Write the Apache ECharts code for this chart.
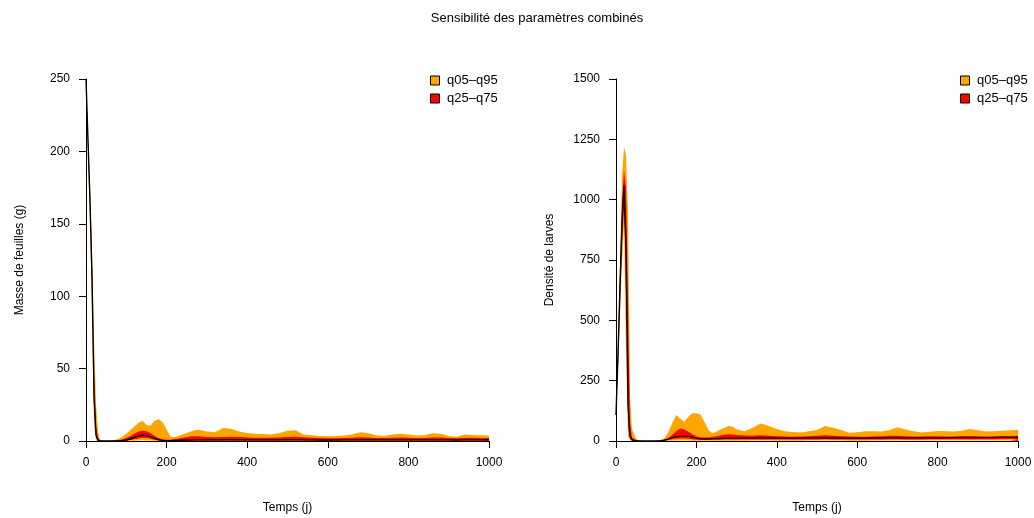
<!DOCTYPE html>
<html><head><meta charset="utf-8">
<script src="https://cdn.jsdelivr.net/npm/echarts@6/dist/echarts.min.js"></script>
<style>html,body{margin:0;padding:0;background:#fff}#c{width:1034px;height:518px}</style>
</head><body><div id="c"></div>
<script>
// time points (days)
const T = [0,5,10,15,20,25,30,35,40,
  50,60,70,80,90,100,110,120,130,140,150,160,170,180,190,200,210,220,230,240,250,260,270,280,290,300,
  320,340,360,380,400,420,440,460,480,500,520,540,560,580,600,620,640,660,680,700,720,740,760,780,800,820,840,860,880,900,920,940,960,980,1000];

// Masse de feuilles (g)
const leafQ05 = [250,198,150,88,10,0.5,0,0,0,
  0,0,0,0,0,0,0.1,0.2,0.4,0.5,0.4,0.3,0.1,0,0,0,0,0,0,0,0,0.05,0.05,0.05,0.05,0.05,
  0.05,0.05,0.05,0.05,0.05,0.05,0.05,0.05,0.05,0.05,0.05,0.05,0.05,0.05,0.05,0.05,0.05,0.05,0.05,0.05,0.05,0.05,0.05,0.05,0.05,0.05,0.05,0.05,0.05,0.05,0.05,0.05,0.05,0.05,0.05];
const leafQ25 = [250,204,160,102,20,2,0.2,0,0,
  0,0,0,0,0.1,0.3,0.7,1.2,1.8,2.2,2,1.5,0.8,0.4,0.2,0.1,0.1,0.1,0.2,0.2,0.3,0.3,0.4,0.4,0.4,0.4,
  0.4,0.4,0.5,0.4,0.4,0.4,0.4,0.4,0.4,0.5,0.5,0.4,0.4,0.3,0.3,0.3,0.4,0.4,0.4,0.4,0.4,0.3,0.4,0.4,0.4,0.4,0.4,0.4,0.4,0.4,0.3,0.4,0.4,0.4,0.4];
const leafMed = [250,207,165,112,30,4,0.5,0.1,0,
  0,0,0,0.1,0.3,0.7,1.4,2.4,3.4,4,3.8,3,1.8,0.9,0.4,0.2,0.2,0.3,0.4,0.5,0.6,0.7,0.8,0.8,0.8,0.8,
  0.8,0.9,0.9,0.9,0.8,0.8,0.8,0.8,0.9,0.9,0.9,0.8,0.8,0.7,0.7,0.7,0.8,0.8,0.9,0.9,0.8,0.8,0.8,0.8,0.8,0.8,0.8,0.8,0.8,0.8,0.7,0.8,0.8,0.8,0.8];
const leafQ75 = [250,209,170,120,48,10,2,0.3,0.05,
  0,0.1,0.2,0.5,1,2,3.5,5,6.5,7,6.8,5.5,3.5,2,1.2,0.8,0.9,1.3,1.8,2.3,2.8,3.2,3.3,3.2,3,2.8,
  2.6,2.8,3,2.7,2.4,2.3,2.2,2.2,2.4,2.8,3,2.6,2.2,2,1.9,1.9,2,2.2,2.6,2.5,2.1,2,2.2,2.4,2.3,2.1,2.1,2.4,2.4,2,1.9,2.2,2.2,2.1,2.1];
const leafQ95 = [250,212,175,130,70,25,6,1,0.3,
  0.1,0.3,0.6,1.5,3,5,7.5,10,12.5,14,11,10.5,14,15,13,8,3,2.8,3.5,4.5,5.5,6.5,7.5,7.8,7,6.5,
  6,9,8.5,6.5,5.5,5,4.8,4.5,5.5,7,7.5,4.5,4,3.5,3.2,3.5,3.8,4.5,6,5.5,3.8,3.5,4.5,5,4.5,3.8,4,5.3,5,3.5,3,4.5,4.2,4,3.8];

// Densité de larves
const larvQ05 = [108,300,520,740,900,350,20,3,0.5,
  0.1,0,0,0,0,0,0.1,0.3,0.8,1.5,2,2.5,2.5,2,1.5,1,1,1,1,1,1.2,1.2,1.3,1.4,1.5,1.5,
  1.5,1.6,1.6,1.6,1.5,1.5,1.5,1.5,1.6,1.6,1.7,1.6,1.6,1.5,1.5,1.5,1.6,1.6,1.7,1.7,1.6,1.6,1.6,1.7,1.7,1.7,1.7,1.8,1.8,1.8,1.8,1.8,1.9,1.9,1.9];
const larvQ25 = [108,330,580,820,980,600,60,8,2,
  0.2,0,0,0,0.1,0.2,0.5,1.5,4,7,9,10,10,9,7,5,4,4,4,5,5,5,6,6,6,6,
  6,6,6.5,6.5,6,6,6,6,6.5,6.5,7,6.5,6.5,6,6,6,6.5,6.5,7,7,6.5,6.5,6.5,7,7,7,7,7,7.5,7.5,7.5,7.5,8,8,8];
const larvMed = [108,360,640,900,1060,800,150,20,5,
  1,0.3,0.2,0.2,0.3,0.5,1,3,8,14,18,20,21,20,16,12,10,9,9,10,10,11,11,12,12,12,
  12,12,13,13,12,12,12,12,13,13,13,13,12,12,12,12,13,13,13,14,13,13,13,13,13,13,14,14,14,14,14,14,15,15,15];
const larvQ75 = [108,390,700,1000,1120,1050,560,70,15,
  2,0.6,0.3,0.3,0.5,1,2,5,12,25,40,52,48,38,28,20,15,14,15,17,20,23,26,28,27,25,
  23,22,24,22,20,19,18,19,20,22,24,22,20,19,18,18,19,20,22,22,20,19,19,20,20,19,19,21,21,20,19,20,21,21,22];
const larvQ95 = [108,420,760,1100,1218,1180,950,180,50,
  8,2,0.5,0.3,0.5,1,3,10,35,75,108,92,80,100,115,115,110,80,45,32,38,48,55,62,60,48,
  40,55,72,62,50,40,37,35,40,46,62,55,46,34,36,40,40,39,45,57,48,40,35,38,41,40,39,42,50,45,39,40,42,45,46];

const xTicks = {min:0, max:1000, interval:200};
const leafTicks = {min:0, max:250, interval:50};
const larvTicks = {min:0, max:1500, interval:250};

const FONT = 'Liberation Sans, Arial, Helvetica, sans-serif';
const ORANGE = '#FFA500', RED = '#FF0000';

function pairs(a){ return T.map((t,i)=>[t,a[i]]); }

// each quantile curve filled down to zero, painted from outermost to innermost
function bandSeries(idx, q05,q25,med,q75,q95){
  const common = {type:'line', xAxisIndex:idx, yAxisIndex:idx, symbol:'none',
    lineStyle:{width:0, opacity:0}, silent:true};
  return [
    Object.assign({}, common, {name:'q05–q95', data:pairs(q95), itemStyle:{color:ORANGE}, areaStyle:{color:ORANGE, opacity:1, origin:'start'}, z:2}),
    Object.assign({}, common, {name:'q25–q75', data:pairs(q75), itemStyle:{color:RED}, areaStyle:{color:RED, opacity:1, origin:'start'}, z:2}),
    Object.assign({}, common, {name:'q05–q95', data:pairs(q25), itemStyle:{color:ORANGE}, areaStyle:{color:ORANGE, opacity:1, origin:'start'}, z:2}),
    Object.assign({}, common, {name:'lower'+idx, data:pairs(q05), itemStyle:{color:'#fff'}, areaStyle:{color:'#fff', opacity:1, origin:'start'}, z:2}),
    {type:'line', name:'median'+idx, xAxisIndex:idx, yAxisIndex:idx, symbol:'none', silent:true,
      data:pairs(med), lineStyle:{color:'#000', width:1.4}, z:3}
  ];
}

const axisCommon = {
  axisLine:{show:true, onZero:false, lineStyle:{color:'#000', width:1}},
  axisTick:{show:true, length:7, lineStyle:{color:'#000'}},
  splitLine:{show:false},
  z:10
};
const fmt = v => String(v);

function xAx(idx){
  return Object.assign({type:'value', gridIndex:idx, name:'Temps (j)', nameLocation:'middle', nameGap:61,
    nameTextStyle:{fontFamily:FONT, fontSize:12, color:'#000'},
    axisLabel:{fontFamily:FONT, fontSize:12, color:'#000', margin:16, formatter:fmt}}, xTicks, axisCommon);
}
function yAx(idx, name, ticks){
  return Object.assign({type:'value', gridIndex:idx, name:name, nameLocation:'middle', nameGap:60,
    nameTextStyle:{fontFamily:FONT, fontSize:12, color:'#000'},
    axisLabel:{fontFamily:FONT, fontSize:12, color:'#000', margin:16, formatter:fmt}}, ticks, axisCommon);
}

const legendCommon = {orient:'vertical', top:74, padding:0, itemWidth:14, itemHeight:9, itemGap:5,
  icon:'path://M0 0H10V10H0Z', symbolKeepAspect:true,
  data:[{name:'q05–q95', itemStyle:{color:ORANGE, borderColor:'#000', borderWidth:1}},
        {name:'q25–q75', itemStyle:{color:RED, borderColor:'#000', borderWidth:1}}],
  textStyle:{fontFamily:FONT, fontSize:13, color:'#000', lineHeight:12}, selectedMode:false};

const chart = echarts.init(document.getElementById('c'), null, {renderer:'canvas'});
chart.setOption({
  animation:false,
  backgroundColor:'#fff',
  graphic:[{type:'text', x:537, y:18, style:{text:'Sensibilité des paramètres combinés', font:'13px '+FONT, fill:'#000', align:'center', verticalAlign:'middle'}}],
  legend:[
    Object.assign({left:430}, legendCommon),
    Object.assign({left:960}, legendCommon)
  ],
  grid:[
    {left:86, right:545, top:79, bottom:77, containLabel:false, outerBoundsMode:'none'},
    {left:616, right:16, top:79, bottom:77, containLabel:false, outerBoundsMode:'none'}
  ],
  xAxis:[xAx(0), xAx(1)],
  yAxis:[yAx(0,'Masse de feuilles (g)',leafTicks), yAx(1,'Densité de larves',larvTicks)],
  series:[].concat(
    bandSeries(0, leafQ05,leafQ25,leafMed,leafQ75,leafQ95),
    bandSeries(1, larvQ05,larvQ25,larvMed,larvQ75,larvQ95)
  )
});
</script></body></html>
